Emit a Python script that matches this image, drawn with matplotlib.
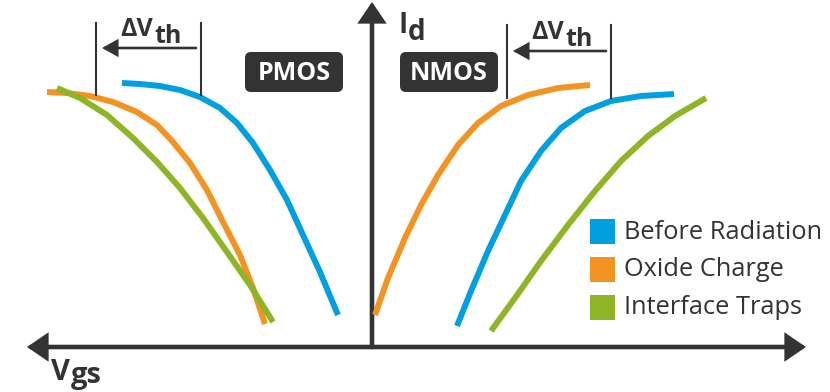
import matplotlib
matplotlib.use('Agg')
import matplotlib.pyplot as plt
from matplotlib.patches import FancyArrowPatch, FancyBboxPatch, Rectangle

# data coordinates: origin at the axis crossing, Vgs right, Id up (schematic units)
pmos_before_x = [-250, -232, -212, -192, -172, -152, -135, -119, -102, -85, -69, -52, -34]
pmos_before_y = [264, 263, 261, 257, 250, 239, 224, 204, 177, 147, 112, 75, 32]
pmos_oxide_x = [-325, -305, -282, -259, -235, -215, -199, -182, -165, -149, -132, -119, -107]
pmos_oxide_y = [255, 254, 251, 245, 235, 222, 205, 184, 157, 125, 92, 59, 23]
pmos_traps_x = [-315, -292, -265, -239, -215, -192, -169, -145, -122, -99]
pmos_traps_y = [259, 249, 232, 209, 185, 159, 129, 95, 62, 25]

nmos_before_x = [85, 99, 116, 133, 149, 169, 189, 213, 239, 269, 302]
nmos_before_y = [21, 56, 96, 132, 166, 196, 219, 236, 246, 251, 253]
nmos_oxide_x = [3, 16, 33, 49, 66, 86, 106, 129, 156, 186, 218]
nmos_oxide_y = [32, 69, 109, 142, 172, 202, 224, 241, 252, 259, 262]
nmos_traps_x = [119, 143, 169, 196, 223, 249, 276, 303, 334]
nmos_traps_y = [16, 49, 86, 122, 156, 186, 211, 231, 249]

labels = ["Before Radiation", "Oxide Charge", "Interface Traps"]
colors = ["#00A0E0", "#F39322", "#8DB526"]

DARK = "#333333"
FONT = "Open Sans"

fig = plt.figure(figsize=(8.3, 3.92), dpi=100)
ax = fig.add_axes([0, 0, 1, 1])
ax.set_xlim(-372, 458)
ax.set_ylim(-45, 347)
ax.axis("off")

# curves
curves = [
    (pmos_before_x, pmos_before_y, colors[0]),
    (pmos_oxide_x, pmos_oxide_y, colors[1]),
    (pmos_traps_x, pmos_traps_y, colors[2]),
    (nmos_oxide_x, nmos_oxide_y, colors[1]),
    (nmos_before_x, nmos_before_y, colors[0]),
    (nmos_traps_x, nmos_traps_y, colors[2]),
]
for xs, ys, c in curves:
    ax.plot(xs, ys, color=c, lw=4.3, solid_capstyle="butt", solid_joinstyle="round")


def arrow(x0, y0, x1, y1, lw, hl, hw):
    a = FancyArrowPatch((x0, y0), (x1, y1),
                        arrowstyle=f"-|>,head_length={hl},head_width={hw}",
                        mutation_scale=1, lw=lw, color=DARK,
                        shrinkA=0, shrinkB=0, joinstyle="miter")
    ax.add_patch(a)


# axes
arrow(0, 0, -345, 0, 3.3, 11, 7.5)
arrow(0, 0, 434, 0, 3.3, 11, 7.5)
arrow(0, 0, 0, 345, 3.3, 11, 7.5)

ax.text(26, 314, "I", fontsize=20, fontweight="bold", color=DARK, family=FONT,
        ha="left", va="baseline")
ax.text(35.5, 307, "d", fontsize=20, fontweight="bold", color=DARK, family=FONT,
        ha="left", va="baseline")
ax.text(-321, -33, "V", fontsize=21, fontweight="bold", color=DARK, family=FONT,
        ha="left", va="baseline")
ax.text(-301, -36, "gs", fontsize=21, fontweight="bold", color=DARK, family=FONT,
        ha="left", va="baseline")

# delta Vth markers
for xl, xr, ytop, ybot, ya, tx, ty in [(-276, -171, 324, 252, 299, -252, 311),
                                       (135, 239, 322, 249, 296, 159, 308)]:
    ax.plot([xl, xl], [ybot, ytop], color=DARK, lw=1.5)
    ax.plot([xr, xr], [ybot, ytop], color=DARK, lw=1.5)
    arrow(xr - 5, ya, xl + 6, ya, 1.9, 9, 5)
    ax.text(tx, ty, "ΔV", fontsize=18, fontweight="bold", color=DARK, family=FONT,
            ha="left", va="baseline")
    ax.text(tx + 34, ty - 7, "th", fontsize=18, fontweight="bold", color=DARK,
            family=FONT, ha="left", va="baseline")

# PMOS / NMOS tags
for x0, name in [(-127, "PMOS"), (28, "NMOS")]:
    box = FancyBboxPatch((x0, 255), 98, 40,
                         boxstyle="round,pad=0,rounding_size=6",
                         fc=DARK, ec="none")
    ax.add_patch(box)
    ax.text(x0 + 49, 274, name, fontsize=18, fontweight="bold", color="white",
            family=FONT, ha="center", va="center")

# legend
for i, (lab, c) in enumerate(zip(labels, colors)):
    ytop = 128 - i * 38
    ax.add_patch(Rectangle((218, ytop - 25), 25, 25, fc=c, ec="none"))
    ax.text(252, ytop - 13, lab, fontsize=18.3, color=DARK, family=FONT,
            ha="left", va="center")

fig.savefig("out.png", dpi=100)
